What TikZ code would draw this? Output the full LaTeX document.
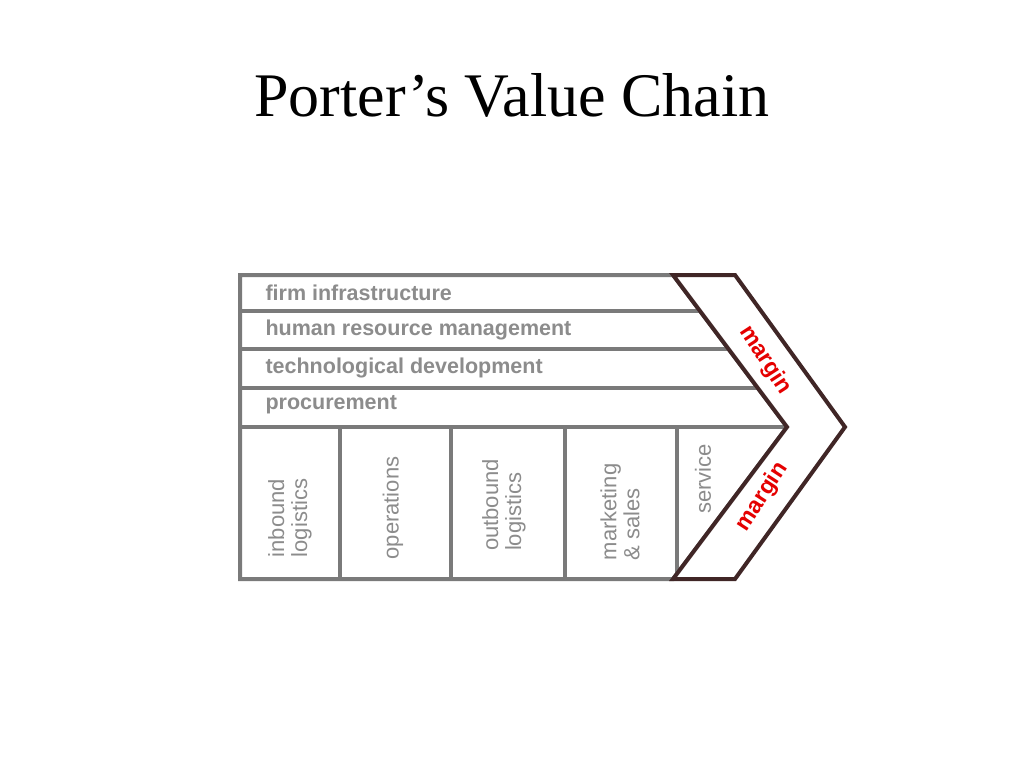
\documentclass[tikz,border=0pt]{standalone}
\usepackage{fontspec}
\setmainfont{Liberation Serif}
\newfontfamily\lab{Liberation Sans}
\begin{document}
\begin{tikzpicture}[x=1pt,y=-1pt,
  grid/.style={draw=gray!70!black!80,line width=4pt,fill=white},
  chev/.style={draw=black!60!red!30!black!85,line width=4pt,line join=miter},
  rowlab/.style={anchor=west,font=\lab\bfseries\fontsize{21.5}{24}\selectfont,text=gray!90},
  collab/.style={rotate=90,align=left,inner sep=1pt,font=\lab\fontsize{22}{23}\selectfont,text=gray!90},
  mlab/.style={inner sep=0pt,font=\lab\bfseries\fontsize{23}{24}\selectfont,text=red!90!black}]
\useasboundingbox (0,0) rectangle (1024,768);
\node (title) at (512,95) {\fontsize{62}{70}\selectfont Porter’s Value Chain};
\draw[grid] (240,275) -- (673,275) -- (787,427) -- (673,579) -- (240,579) -- cycle;
\foreach \y in {311,349,388,427}{
  \pgfmathsetmacro{\xe}{673+0.75*(\y-275)}
  \draw[grid] (240,\y) -- (\xe,\y);
}
\foreach \x in {340,451,565,677}{
  \draw[grid] (\x,427) -- (\x,579);
}
\draw[chev,fill=white] (673,275) -- (735,275) -- (845,427) -- (735,579) -- (673,579) -- (787,427) -- cycle;
\node[rowlab] (r1) at (262,293) {firm infrastructure};
\node[rowlab] (r2) at (262,330) {human resource management};
\node[rowlab] (r3) at (262,368) {technological development};
\node[rowlab] (r4) at (262,405) {procurement};
\node[collab] (c1) at (290,518) {inbound\\logistics};
\node[collab] (c2) at (393,508) {operations};
\node[collab] (c3) at (504,505) {outbound\\logistics};
\node[collab] (c4) at (620,512) {marketing\\\& sales};
\node[collab] (c5) at (703,479) {service};
\node[mlab,rotate=-57] (m1) at (765,360) {margin};
\node[mlab,rotate=57] (m2) at (762,497) {margin};
\end{tikzpicture}
\end{document}
